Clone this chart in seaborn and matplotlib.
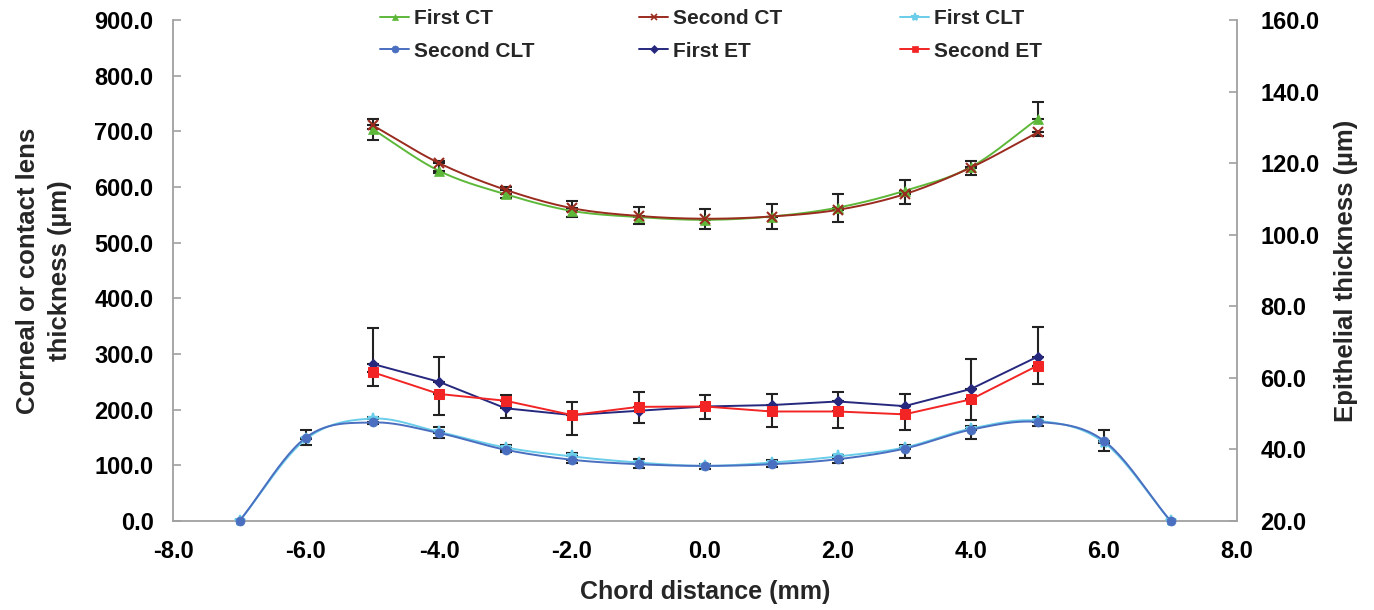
import numpy as np
import pandas as pd
import matplotlib
matplotlib.use("Agg")
import matplotlib.pyplot as plt
import seaborn as sns
from matplotlib.lines import Line2D

# ---------------- data ----------------
ct_x = [-5, -4, -3, -2, -1, 0, 1, 2, 3, 4, 5]
first_ct = [704, 629, 587, 557, 546, 541, 547, 563, 593, 636, 722]
first_ct_err = [18, 18, 13, 17, 18, 19, 23, 24, 19, 11, 31]
second_ct = [711, 643, 595, 562, 548, 543, 547, 559, 587, 635, 698]
second_ct_err = [26, 18, 15, 16, 15, 18, 22, 22, 17, 14, 7]

clt_x = [-7, -6, -5, -4, -3, -2, -1, 0, 1, 2, 3, 4, 5, 6, 7]
first_clt = [0, 147, 184, 160, 132, 116, 105, 99, 105, 116, 132, 166, 180, 141, 0]
first_clt_err = [0, 17, 2, 8, 5, 6, 6, 4, 4, 3, 5, 4, 7, 23, 0]
second_clt = [0, 150, 177, 158, 128, 110, 102, 99, 102, 111, 130, 164, 178, 144, 0]
second_clt_err = [0, 13, 3, 8, 4, 5, 7, 6, 5, 6, 16, 17, 8, 18, 0]

et_x = [-5, -4, -3, -2, -1, 0, 1, 2, 3, 4, 5]
first_et = [63.9, 58.9, 51.5, 49.6, 50.8, 52.0, 52.4, 53.4, 52.1, 56.9, 65.9]
first_et_err = [10.0, 7.0, 3.6, 3.7, 5.2, 3.2, 3.1, 2.7, 3.4, 8.4, 8.4]
second_et = [61.6, 55.5, 53.6, 49.6, 51.9, 52.0, 50.6, 50.6, 49.8, 54.0, 63.4]
second_et_err = [4.0, 5.9, 4.7, 5.6, 4.4, 3.5, 4.2, 4.7, 4.4, 5.8, 5.1]

x_ticks = [-8, -6, -4, -2, 0, 2, 4, 6, 8]
left_ticks = [0, 100, 200, 300, 400, 500, 600, 700, 800, 900]
right_ticks = [20, 40, 60, 80, 100, 120, 140, 160]

# ---------------- style ----------------
sns.set_theme(style="white")
plt.rcParams["font.family"] = ["Liberation Sans", "DejaVu Sans"]
plt.rcParams["font.weight"] = "bold"

C_FCT = "#5DB83A"
C_SCT = "#9A2B1F"
C_FCLT = "#6ACDEA"
C_SCLT = "#4A6FC0"
C_FET = "#26287E"
C_SET = "#F22424"
SPINE = "#A0A0A0"


def smooth(x, y, n=24):
    P = np.column_stack([np.asarray(x, float), np.asarray(y, float)])
    T = np.zeros_like(P)
    T[1:-1] = (P[2:] - P[:-2]) / 2.0
    T[0] = P[1] - P[0]
    T[-1] = P[-1] - P[-2]
    t = np.linspace(0, 1, n, endpoint=False)[:, None]
    h00 = 2 * t**3 - 3 * t**2 + 1
    h10 = t**3 - 2 * t**2 + t
    h01 = -2 * t**3 + 3 * t**2
    h11 = t**3 - t**2
    segs = [h00 * P[i] + h10 * T[i] + h01 * P[i + 1] + h11 * T[i + 1] for i in range(len(P) - 1)]
    segs.append(P[-1:])
    S = np.vstack(segs)
    return pd.DataFrame({"x": S[:, 0], "y": S[:, 1], "i": np.arange(len(S))})


fig = plt.figure(figsize=(13.74, 6.10), dpi=100)
ax = fig.add_axes([173 / 1374, 1 - 521 / 610, (1237 - 173) / 1374, (521 - 20) / 610])
ax2 = ax.twinx()

LW = 1.4
ECOL = "#222222"

# ---- left axis: CT and CLT (smoothed lines) ----
for xs, ys, err, col, mk, ms, up in [
    (ct_x, first_ct, first_ct_err, C_FCT, "^", 7, True),
    (ct_x, second_ct, second_ct_err, C_SCT, "x", 7, False),
    (clt_x, first_clt, first_clt_err, C_FCLT, "*", 8, True),
    (clt_x, second_clt, second_clt_err, C_SCLT, "o", 6.5, False),
]:
    err = np.asarray(err, float)
    zeros = np.zeros_like(err)
    yerr = [zeros, err] if up else [err, zeros]
    mask = err > 0
    ax.errorbar(np.asarray(xs)[mask], np.asarray(ys)[mask],
                yerr=[yerr[0][mask], yerr[1][mask]], fmt="none",
                ecolor=ECOL, elinewidth=1.5, capsize=4.5, capthick=1.5, zorder=2)
    df = smooth(xs, ys)
    sns.lineplot(data=df, x="x", y="y", sort=False, estimator=None, color=col,
                 lw=LW, ax=ax, zorder=3, legend=False)
    ax.plot(xs, ys, ls="none", marker=mk, color=col, markersize=ms,
            markeredgewidth=1.5 if mk in "x*" else 0.5, zorder=4, clip_on=False)

# ---- right axis: ET (straight lines) ----
for xs, ys, err, col, mk, ms, up in [
    (et_x, first_et, first_et_err, C_FET, "D", 5, True),
    (et_x, second_et, second_et_err, C_SET, "s", 7, False),
]:
    err = np.asarray(err, float)
    zeros = np.zeros_like(err)
    yerr = [zeros, err] if up else [err, zeros]
    ax2.errorbar(xs, ys, yerr=yerr, fmt="none", ecolor=ECOL, elinewidth=1.5,
                 capsize=4.5, capthick=1.5, zorder=2)
    df = pd.DataFrame({"x": xs, "y": ys})
    sns.lineplot(data=df, x="x", y="y", color=col, lw=LW, marker=mk,
                 markersize=ms, markeredgecolor=col, ax=ax2, zorder=3, legend=False)

# ---- axes formatting ----
ax.set_xlim(-8, 8)
ax.set_ylim(0, 900)
ax2.set_ylim(20, 160)
ax.set_xticks(x_ticks)
ax.set_xticklabels([f"{v:.1f}" for v in x_ticks])
ax.set_yticks(left_ticks)
ax.set_yticklabels([f"{v:.1f}" for v in left_ticks])
ax2.set_yticks(right_ticks)
ax2.set_yticklabels([f"{v:.1f}" for v in right_ticks])

TS = 17
for a in (ax, ax2):
    a.grid(False)
    a.set_facecolor("none")
    for s in ("left", "right", "bottom"):
        a.spines[s].set_color(SPINE)
        a.spines[s].set_linewidth(1.3)
    a.spines["top"].set_visible(False)
    a.tick_params(direction="in", length=6, width=1.2, color=SPINE,
                  labelsize=TS, labelcolor="black", pad=10)
ax.spines["right"].set_visible(False)
ax2.spines["left"].set_visible(False)
ax2.spines["bottom"].set_visible(False)
ax.tick_params(axis="x", pad=14)
ax.tick_params(axis="y", pad=14)
ax2.tick_params(axis="y", pad=17)
for lab in ax.get_xticklabels() + ax.get_yticklabels() + ax2.get_yticklabels():
    lab.set_fontweight("bold")

ax.set_xlabel("Chord distance (mm)", fontsize=18, fontweight="bold", labelpad=12)
ax.set_ylabel("Corneal or contact lens\nthickness (µm)", fontsize=18.5,
              fontweight="bold", labelpad=16, linespacing=1.45)
ax2.set_ylabel("Epithelial thickness (µm)", fontsize=18.5, fontweight="bold",
               labelpad=10, rotation=90)
ax.set_zorder(ax2.get_zorder() + 1)

# ---- legend: 3 columns placed individually ----
def h(col, mk, ms):
    return Line2D([0], [0], color=col, lw=LW, marker=mk, markersize=ms,
                  markeredgewidth=1.2 if mk in "x*" else 0.5)

cols = [
    ([h(C_FCT, "^", 5), h(C_SCLT, "o", 5)], ["First CT", "Second CLT"], 380),
    ([h(C_SCT, "x", 5), h(C_FET, "D", 4)], ["Second CT", "First ET"], 639),
    ([h(C_FCLT, "*", 6), h(C_SET, "s", 5)], ["First CLT", "Second ET"], 900),
]
for hs, ls, px in cols:
    fig.legend(hs, ls, loc="upper left", bbox_to_anchor=(px / 1374, 1 - 9 / 610),
               frameon=False, prop={"weight": "bold", "size": 15},
               handlelength=1.4, handletextpad=0.25, borderpad=0, borderaxespad=0,
               labelspacing=0.65)

fig.savefig("out.png", dpi=100)
